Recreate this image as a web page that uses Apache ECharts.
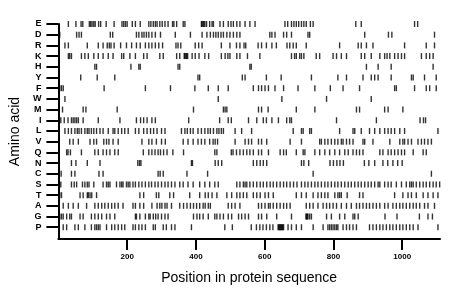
<!DOCTYPE html>
<html>
<head>
<meta charset="utf-8">
<script src="https://cdn.jsdelivr.net/npm/echarts@6/dist/echarts.min.js"></script>
<style>
  html, body { margin: 0; padding: 0; background: #fff; }
  #main { width: 460px; height: 299px; }
</style>
</head>
<body>
<div id="main"></div>
<script>
// rows, top to bottom
const aminoAcids = ['E', 'D', 'R', 'K', 'H', 'Y', 'F', 'W', 'M', 'I', 'L', 'V', 'Q', 'N', 'C', 'S', 'T', 'A', 'G', 'P'];
const xTicks = [200, 400, 600, 800, 1000];
const seqLength = 1110;

// positions of each residue
const posE = [29, 51, 66, 71, 90, 94, 98, 103, 107, 117, 123, 139, 162, 185, 190, 195, 200, 215, 224, 238, 263, 269, 276, 282, 287, 295, 302, 310, 319, 332, 336, 344, 363, 368, 416, 418, 421, 423, 426, 431, 440, 447, 451, 470, 480, 494, 502, 509, 519, 528, 543, 557, 572, 659, 667, 678, 685, 692, 699, 707, 714, 721, 733, 741, 865, 881, 1036, 1045];
const posD = [4, 53, 60, 67, 151, 158, 227, 234, 243, 249, 256, 263, 272, 282, 297, 340, 384, 418, 432, 442, 451, 458, 465, 473, 480, 490, 499, 509, 519, 528, 615, 621, 630, 655, 664, 678, 726, 731, 891, 960, 970, 1094];
const posR = [19, 29, 84, 116, 130, 142, 148, 153, 162, 181, 198, 213, 227, 238, 253, 263, 272, 282, 292, 303, 342, 348, 356, 398, 408, 418, 474, 499, 518, 528, 540, 545, 581, 591, 605, 621, 634, 665, 673, 683, 692, 721, 818, 872, 881, 896, 915, 1007, 1070, 1094];
const posK = [29, 33, 38, 67, 77, 87, 103, 116, 130, 145, 159, 184, 190, 208, 224, 248, 258, 295, 305, 344, 353, 366, 368, 371, 373, 376, 389, 398, 409, 426, 437, 474, 485, 493, 499, 519, 528, 550, 586, 678, 687, 692, 702, 707, 714, 750, 760, 799, 809, 823, 838, 881, 891, 910, 935, 949, 956, 964, 978, 988, 998, 1007, 1056, 1070, 1080, 1090];
const posH = [106, 111, 211, 234, 238, 348, 353, 557, 561, 896, 930, 968, 1090];
const posY = [65, 113, 164, 406, 411, 535, 543, 605, 648, 736, 813, 838, 886, 910, 920, 930, 968, 1027, 1032, 1065, 1099];
const posF = [4, 9, 14, 133, 253, 326, 397, 436, 465, 494, 567, 582, 591, 601, 611, 630, 655, 697, 746, 791, 828, 876, 978, 983, 1036, 1070, 1080, 1099];
const posW = [19, 465, 650, 780, 910];
const posM = [12, 72, 80, 171, 393, 480, 485, 490, 582, 591, 610, 692, 746, 867, 876, 949, 959, 1002];
const posI = [7, 17, 28, 38, 43, 48, 53, 58, 72, 116, 179, 227, 239, 248, 258, 272, 282, 379, 469, 494, 503, 553, 577, 596, 605, 621, 640, 664, 673, 678, 809, 925, 1052, 1062, 1068];
const posL = [19, 29, 38, 48, 55, 60, 67, 77, 84, 89, 96, 103, 111, 121, 130, 145, 159, 164, 174, 184, 193, 203, 224, 234, 248, 258, 268, 277, 287, 300, 310, 358, 368, 375, 384, 392, 406, 416, 426, 435, 442, 451, 461, 467, 474, 480, 514, 533, 562, 683, 707, 712, 731, 736, 818, 857, 862, 881, 905, 920, 935, 949, 959, 968, 978, 993, 1007, 1104];
const posV = [33, 43, 58, 92, 103, 111, 132, 140, 147, 159, 174, 243, 263, 272, 285, 300, 311, 363, 377, 392, 406, 416, 426, 440, 450, 456, 463, 514, 543, 553, 562, 582, 591, 606, 674, 707, 760, 765, 775, 784, 794, 804, 813, 823, 828, 838, 847, 857, 886, 891, 915, 964, 993, 1002, 1007, 1017, 1027, 1046, 1056, 1065, 1075, 1085];
const posQ = [24, 28, 35, 67, 106, 116, 130, 140, 150, 164, 174, 247, 263, 272, 281, 290, 297, 306, 316, 333, 364, 455, 461, 503, 508, 518, 528, 538, 548, 557, 567, 582, 591, 611, 645, 655, 663, 692, 712, 717, 746, 760, 775, 789, 804, 818, 833, 843, 857, 867, 876, 886, 935, 944, 959, 968, 978, 988, 998, 1007, 1032, 1061, 1070];
const posN = [38, 51, 84, 121, 231, 236, 240, 387, 390, 456, 465, 475, 567, 577, 587, 596, 606, 707, 714, 728, 790, 800, 810, 819, 829, 890, 903, 920, 944, 958, 973, 987, 1000];
const posC = [8, 38, 48, 118, 130, 290, 296, 305, 374, 434, 741, 1085];
const posS = [7, 38, 46, 53, 70, 77, 84, 89, 103, 130, 140, 145, 150, 169, 179, 184, 188, 198, 203, 208, 217, 224, 234, 243, 253, 263, 271, 281, 290, 300, 310, 319, 329, 339, 353, 363, 377, 392, 411, 426, 440, 455, 465, 519, 528, 538, 543, 548, 557, 567, 577, 587, 596, 606, 616, 625, 635, 645, 655, 664, 674, 684, 694, 707, 717, 726, 736, 746, 755, 765, 775, 784, 794, 804, 813, 823, 833, 843, 852, 862, 872, 881, 891, 901, 910, 920, 930, 935, 949, 959, 968, 983, 998, 1012, 1022, 1027, 1032, 1041, 1051, 1061, 1070, 1080, 1090, 1099, 1109];
const posT = [4, 9, 63, 72, 84, 87, 92, 97, 111, 237, 248, 285, 292, 324, 335, 382, 411, 427, 436, 447, 461, 490, 504, 519, 528, 538, 548, 567, 577, 587, 601, 611, 625, 692, 707, 721, 741, 755, 765, 775, 784, 804, 813, 818, 823, 840, 876, 886, 978, 1002, 1017, 1027, 1041, 1061, 1075, 1090, 1104];
const posA = [14, 29, 43, 58, 82, 106, 116, 126, 135, 145, 155, 164, 174, 188, 217, 224, 237, 248, 272, 287, 295, 301, 310, 316, 329, 353, 364, 374, 384, 393, 402, 411, 421, 427, 436, 442, 494, 504, 514, 528, 582, 591, 601, 611, 616, 625, 635, 645, 655, 664, 674, 721, 731, 741, 755, 770, 780, 789, 799, 809, 823, 838, 852, 867, 876, 886, 896, 905, 915, 925, 935, 949, 959, 973, 983, 993, 1002, 1012, 1022, 1032, 1041, 1051, 1065, 1075, 1094];
const posG = [4, 9, 14, 24, 33, 38, 63, 72, 96, 106, 116, 126, 140, 150, 164, 224, 227, 237, 253, 263, 267, 276, 283, 290, 300, 310, 319, 393, 403, 411, 421, 436, 455, 461, 470, 480, 494, 504, 524, 533, 543, 553, 582, 591, 606, 635, 678, 720, 722, 724, 726, 731, 736, 780, 794, 818, 833, 857, 862, 872, 950, 985, 1050, 1075, 1088];
const posP = [14, 24, 48, 58, 77, 96, 106, 111, 116, 121, 140, 155, 164, 174, 184, 193, 217, 224, 234, 243, 253, 276, 282, 305, 314, 329, 339, 387, 484, 506, 561, 576, 586, 595, 605, 615, 624, 639, 641, 643, 645, 647, 649, 651, 653, 655, 668, 678, 692, 707, 741, 770, 784, 789, 794, 799, 804, 809, 813, 828, 838, 847, 857, 867, 905, 915, 925, 935, 944, 954, 964, 973, 983, 993, 1002, 1012, 1022, 1032, 1046, 1104];

const rows = [posE, posD, posR, posK, posH, posY, posF, posW, posM, posI, posL, posV, posQ, posN, posC, posS, posT, posA, posG, posP];

let marks = [];
rows.forEach((list, i) => {
  list.forEach((p) => marks.push([p, i]));
});

const chart = echarts.init(document.getElementById('main'));
const option = {
  animation: false,
  grid: {
    left: 58,
    right: 20,
    top: 24,
    bottom: 60
  },
  xAxis: {
    type: 'value',
    min: 0,
    max: seqLength,
    name: 'Position in protein sequence',
    nameLocation: 'middle',
    nameGap: 32,
    nameTextStyle: { color: '#000', fontSize: 14, fontFamily: 'Liberation Sans' },
    axisLine: { onZero: false, lineStyle: { color: '#000', width: 2 } },
    axisTick: { customValues: xTicks, length: 11, lineStyle: { color: '#000', width: 2 } },
    axisLabel: {
      customValues: xTicks,
      margin: 14,
      color: '#000',
      fontSize: 8,
      fontWeight: 'bold',
      fontFamily: 'Liberation Sans',
      formatter: (v) => String(v)
    },
    splitLine: { show: false }
  },
  yAxis: {
    type: 'value',
    inverse: true,
    min: 0,
    max: 20.1,
    name: 'Amino acid',
    nameLocation: 'middle',
    nameRotate: 90,
    nameGap: 30,
    nameTextStyle: { color: '#000', fontSize: 14, fontFamily: 'Liberation Sans' },
    axisLine: { onZero: false, lineStyle: { color: '#000', width: 2 } },
    axisTick: { customValues: aminoAcids.map((a, i) => i), length: 12, lineStyle: { color: '#000', width: 2 } },
    axisLabel: {
      customValues: aminoAcids.map((a, i) => i),
      margin: 17,
      color: '#000',
      fontSize: 9,
      fontWeight: 'bold',
      fontFamily: 'Liberation Sans',
      formatter: (v) => aminoAcids[v]
    },
    splitLine: { show: false }
  },
  series: [
    {
      type: 'scatter',
      symbol: 'rect',
      symbolSize: [1.4, 6],
      clip: false,
      itemStyle: { color: '#000' },
      data: marks
    }
  ]
};
chart.setOption(option);
</script>
</body>
</html>
